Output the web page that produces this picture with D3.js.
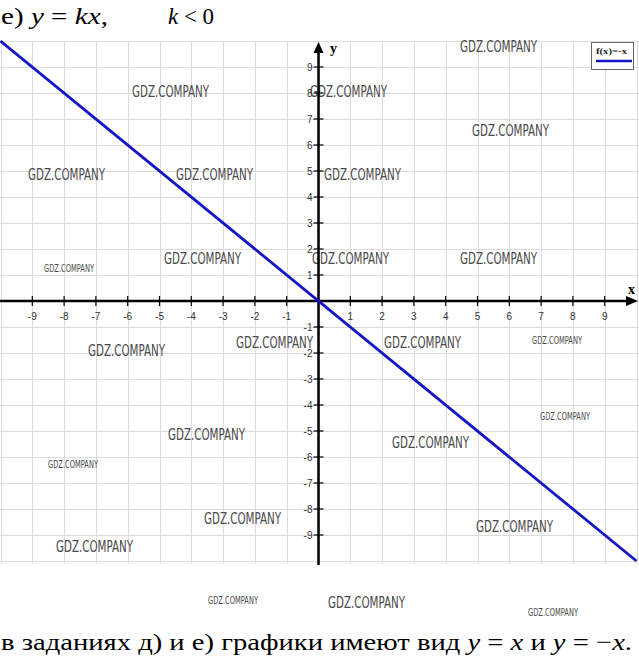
<!DOCTYPE html>
<html><head><meta charset="utf-8">
<script src="https://cdn.jsdelivr.net/npm/d3@7"></script>
<style>
html,body{margin:0;padding:0;background:#fff;}
svg{display:block;}
</style></head>
<body>
<script>
// ---- data ----
const xTicks = [-9,-8,-7,-6,-5,-4,-3,-2,-1,1,2,3,4,5,6,7,8,9];
const yTicks = [-9,-8,-7,-6,-5,-4,-3,-2,-1,1,2,3,4,5,6,7,8,9];
const gridX = [-10,-9,-8,-7,-6,-5,-4,-3,-2,-1,0,1,2,3,4,5,6,7,8,9,10];
const gridY = [-10,-9,-8,-7,-6,-5,-4,-3,-2,-1,0,1,2,3,4,5,6,7,8,9,10];
const lineX = [-10, 10];
const lineY = [10, -10];
const legendLabel = "f(x)=-x";
const watermark = "GDZ.COMPANY";
// [left, baseline, small?]
const marks = [
  [132,97,0],[310,97,0],[460,52,0],[472,136,0],
  [28,180,0],[176,180,0],[324,180,0],[44,272,1],
  [164,264,0],[312,264,0],[460,264,0],
  [88,356,0],[236,348,0],[384,348,0],[532,344,1],
  [168,440,0],[392,448,0],[540,420,1],[48,468,1],
  [204,524,0],[476,532,0],[56,552,0],
  [208,604,1],[328,608,0],[528,616,1]
];

const W = 639, H = 657;
const serif = "'Liberation Serif', 'Times New Roman', Times, 'DejaVu Serif', serif";
const svg = d3.select("body").append("svg").attr("width", W).attr("height", H);

const x = d3.scaleLinear().domain([-10, 10]).range([0.5, 636.5]);
const y = d3.scaleLinear().domain([-10, 10]).range([561, 41]);

// grid
const grid = svg.append("g").attr("stroke", "#dcdcdc").attr("stroke-width", 1);
grid.selectAll("line.v").data(gridX).join("line")
  .attr("x1", d => Math.round(x(d)) + 0.5).attr("x2", d => Math.round(x(d)) + 0.5)
  .attr("y1", y(10)).attr("y2", y(-10) + 3);
grid.selectAll("line.h").data(gridY).join("line")
  .attr("y1", d => Math.round(y(d)) + 0.5).attr("y2", d => Math.round(y(d)) + 0.5)
  .attr("x1", 0).attr("x2", W);

// watermarks
svg.append("g").selectAll("text").data(marks).join("text")
  .attr("x", d => d[0]).attr("y", d => d[1])
  .attr("font-family", "'Liberation Sans Narrow', 'DejaVu Sans Condensed', sans-serif")
  .attr("font-size", d => d[2] ? 10 : 16)
  .attr("textLength", d => d[2] ? 50 : 77)
  .attr("lengthAdjust", "spacingAndGlyphs")
  .attr("fill", "#4a4a4a")
  .text(watermark);

// axes
const ax = svg.append("g").attr("stroke", "#000");
ax.append("line").attr("x1", 0).attr("x2", 632).attr("y1", y(0)).attr("y2", y(0)).attr("stroke-width", 2.5);
ax.append("path").attr("d", `M638,${y(0)} L626,${y(0)-5} L626,${y(0)+5} Z`).attr("fill", "#000").attr("stroke", "none");
ax.append("line").attr("x1", x(0)).attr("x2", x(0)).attr("y1", 47).attr("y2", 565).attr("stroke-width", 2.5);
ax.append("path").attr("d", `M${x(0)},42 L${x(0)-5},53 L${x(0)+5},53 Z`).attr("fill", "#000").attr("stroke", "none");

// x ticks
ax.selectAll("line.xt").data(xTicks).join("line")
  .attr("x1", d => x(d)).attr("x2", d => x(d))
  .attr("y1", y(0) - 5).attr("y2", y(0) + 5).attr("stroke-width", 1.2);
svg.append("g").selectAll("text").data(xTicks).join("text")
  .attr("x", d => x(d)).attr("y", y(0) + 19)
  .attr("text-anchor", "middle")
  .attr("font-family", "'Liberation Sans Narrow', sans-serif").attr("font-size", 10)
  .attr("fill", "#333")
  .text(d => d);

// y ticks
ax.selectAll("line.yt").data(yTicks).join("line")
  .attr("y1", d => y(d)).attr("y2", d => y(d))
  .attr("x1", x(0) - 5).attr("x2", x(0) + 5).attr("stroke-width", 1.2);
svg.append("g").selectAll("text").data(yTicks).join("text")
  .attr("x", x(0) - 6).attr("y", d => y(d) + 4)
  .attr("text-anchor", "end")
  .attr("font-family", "'Liberation Sans Narrow', sans-serif").attr("font-size", 10)
  .attr("fill", "#333")
  .text(d => d);

// axis labels
svg.append("text").attr("x", 628).attr("y", 294).attr("font-family", serif)
  .attr("font-weight", "bold").attr("font-size", 14).text("x");
svg.append("text").attr("x", 330).attr("y", 53).attr("font-family", serif)
  .attr("font-weight", "bold").attr("font-size", 14).text("y");

// function line
const pts = lineX.map((v, i) => [v, lineY[i]]);
svg.append("path").datum(pts)
  .attr("d", d3.line().x(d => x(d[0])).y(d => y(d[1])))
  .attr("fill", "none").attr("stroke", "#1515c8").attr("stroke-width", 2.8);

// legend
const lg = svg.append("g");
lg.append("rect").attr("x", 591.5).attr("y", 42.5).attr("width", 42).attr("height", 27)
  .attr("fill", "#fff").attr("stroke", "#666").attr("stroke-width", 1);
lg.append("text").attr("x", 596).attr("y", 54).attr("font-family", serif)
  .attr("font-size", 8).attr("font-weight", "bold").attr("fill", "#222")
  .attr("textLength", 31).attr("lengthAdjust", "spacingAndGlyphs").text(legendLabel);
lg.append("line").attr("x1", 596).attr("x2", 632).attr("y1", 61).attr("y2", 61)
  .attr("stroke", "#1515c8").attr("stroke-width", 2.5);

// title (two parts)
const t1 = svg.append("text").attr("x", 1).attr("y", 24)
  .attr("font-family", serif).attr("font-size", 24).attr("fill", "#000")
  .attr("textLength", 107).attr("lengthAdjust", "spacingAndGlyphs");
t1.append("tspan").text("е) ");
t1.append("tspan").attr("font-style", "italic").text("y");
t1.append("tspan").text(" = ");
t1.append("tspan").attr("font-style", "italic").text("kx");
t1.append("tspan").text(",");
const t2 = svg.append("text").attr("x", 168).attr("y", 24)
  .attr("font-family", serif).attr("font-size", 24).attr("fill", "#000")
  .attr("textLength", 46).attr("lengthAdjust", "spacingAndGlyphs");
t2.append("tspan").attr("font-style", "italic").text("k");
t2.append("tspan").text(" < 0");

// bottom note
const b = svg.append("text").attr("x", 1).attr("y", 650)
  .attr("font-family", serif).attr("font-size", 24).attr("fill", "#000")
  .attr("textLength", 631).attr("lengthAdjust", "spacingAndGlyphs");
b.append("tspan").text("в заданиях д) и е) графики имеют вид ");
b.append("tspan").attr("font-style", "italic").text("y");
b.append("tspan").text(" = ");
b.append("tspan").attr("font-style", "italic").text("x");
b.append("tspan").text(" и ");
b.append("tspan").attr("font-style", "italic").text("y");
b.append("tspan").text(" = −");
b.append("tspan").attr("font-style", "italic").text("x");
b.append("tspan").text(".");
</script>
</body></html>
